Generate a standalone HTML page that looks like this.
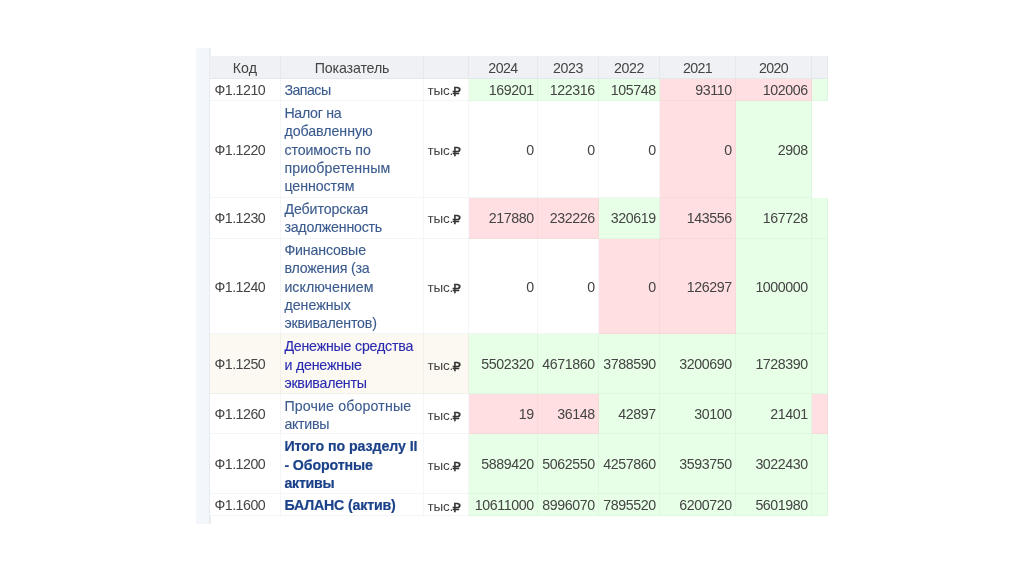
<!DOCTYPE html>
<html lang="ru"><head><meta charset="utf-8"><title>Баланс</title>
<style>
html,body{margin:0;padding:0;background:#fff;}
body{width:1024px;height:574px;position:relative;overflow:hidden;font-family:"Liberation Sans",sans-serif;font-size:14.2px;color:#444;}
.strip{position:absolute;left:196px;top:48px;width:13px;height:476px;background:#f3f7fc;}
.vline{position:absolute;left:209px;top:48px;width:2px;height:476px;background:linear-gradient(90deg,#e6e9ed,#eef0f3);}
.c{position:absolute;box-sizing:border-box;border-right:1px solid rgba(0,20,40,0.045);border-bottom:1px solid rgba(0,20,40,0.045);white-space:nowrap;display:flex;align-items:center;}
.h{background:#eff1f5;justify-content:center;color:#444;}
.num{justify-content:flex-end;padding-right:3.2px;letter-spacing:-0.4px;}
.n4{padding-right:3.3px;}
.code{padding-left:4.5px;}
.name{padding-left:3.4px;line-height:18.35px;color:#3b5b8e;-webkit-text-stroke:0.12px currentColor;}
.name.hov{color:#2a2ab0;}
.name.b{font-weight:bold;color:#1b4189;-webkit-text-stroke:0.2px #1b4189;}
.name span{display:block;}
.cc{border-color:rgba(0,40,20,0.032);}
.nb{border:none;}
.unit{padding-left:3.4px;}
.unit .t{letter-spacing:-0.15px;font-size:13.5px;}
.rub{font-family:"DejaVu Sans",sans-serif;font-weight:normal;-webkit-text-stroke:0.45px #333;font-size:13px;margin-left:-0.7px;color:#333;position:relative;top:1.1px;display:inline-block;}
</style></head><body>
<div class="strip"></div><div class="vline"></div>

<div class="c h" style="left:210px;top:56px;width:71px;height:23px;padding-top:2.0px;"><span class="t" style="letter-spacing:0.200px">Код</span></div>
<div class="c h" style="left:281px;top:56px;width:143px;height:23px;padding-top:2.0px;"><span class="t" style="letter-spacing:-0.111px">Показатель</span></div>
<div class="c h" style="left:424px;top:56px;width:45px;height:23px;padding-top:2.0px;"></div>
<div class="c h" style="left:469px;top:56px;width:69px;height:23px;padding-top:2.0px;"><span class="t" style="letter-spacing:-0.533px">2024</span></div>
<div class="c h" style="left:538px;top:56px;width:61px;height:23px;padding-top:2.0px;"><span class="t" style="letter-spacing:-0.333px">2023</span></div>
<div class="c h" style="left:599px;top:56px;width:61px;height:23px;padding-top:2.0px;"><span class="t" style="letter-spacing:-0.400px">2022</span></div>
<div class="c h" style="left:660px;top:56px;width:76px;height:23px;padding-top:2.0px;"><span class="t" style="letter-spacing:-0.600px">2021</span></div>
<div class="c h" style="left:736px;top:56px;width:76px;height:23px;padding-top:2.0px;"><span class="t" style="letter-spacing:-0.600px">2020</span></div>
<div class="c h" style="left:812px;top:56px;width:16px;height:23px;padding-top:2.0px;"></div>
<div class="c code" style="left:210px;top:79px;width:71px;height:22px;background:#ffffff;padding-top:0.9px;"><span class="t" style="letter-spacing:-0.500px">Ф1.1210</span></div>
<div class="c name" style="left:281px;top:79px;width:143px;height:22px;background:#ffffff;padding-top:0.9px;"><div><span class="t" style="letter-spacing:-0.520px">Запасы</span></div></div>
<div class="c unit" style="left:424px;top:79px;width:45px;height:22px;background:#ffffff;padding-top:2.1px;"><span class="t">тыс.</span><span class="rub">₽</span></div>
<div class="c num n4 cc" style="left:469px;top:79px;width:69px;height:22px;background:#e6ffe6;padding-top:0.9px;"><span class="t">169201</span></div>
<div class="c num n4 cc" style="left:538px;top:79px;width:61px;height:22px;background:#e6ffe6;padding-top:0.9px;"><span class="t">122316</span></div>
<div class="c num n4 cc" style="left:599px;top:79px;width:61px;height:22px;background:#e6ffe6;padding-top:0.9px;"><span class="t">105748</span></div>
<div class="c num n4 cc" style="left:660px;top:79px;width:76px;height:22px;background:#ffdfe1;padding-top:0.9px;"><span class="t">93110</span></div>
<div class="c num cc" style="left:736px;top:79px;width:76px;height:22px;background:#ffdfe1;padding-top:0.9px;"><span class="t">102006</span></div>
<div class="c ex cc" style="left:812px;top:79px;width:16px;height:22px;background:#e6ffe6;"></div>
<div class="c code" style="left:210px;top:101px;width:71px;height:97px;background:#ffffff;padding-top:1.1px;"><span class="t" style="letter-spacing:-0.500px">Ф1.1220</span></div>
<div class="c name" style="left:281px;top:101px;width:143px;height:97px;background:#ffffff;padding-top:1.7px;"><div><span class="t" style="letter-spacing:-0.286px">Налог на</span><span class="t" style="letter-spacing:-0.040px">добавленную</span><span class="t" style="letter-spacing:-0.091px">стоимость по</span><span class="t" style="letter-spacing:0.100px">приобретенным</span><span class="t" style="letter-spacing:-0.050px">ценностям</span></div></div>
<div class="c unit" style="left:424px;top:101px;width:45px;height:97px;background:#ffffff;padding-top:2.3px;"><span class="t">тыс.</span><span class="rub">₽</span></div>
<div class="c num n4" style="left:469px;top:101px;width:69px;height:97px;background:#ffffff;padding-top:1.1px;"><span class="t">0</span></div>
<div class="c num n4" style="left:538px;top:101px;width:61px;height:97px;background:#ffffff;padding-top:1.1px;"><span class="t">0</span></div>
<div class="c num n4" style="left:599px;top:101px;width:61px;height:97px;background:#ffffff;padding-top:1.1px;"><span class="t">0</span></div>
<div class="c num n4 cc" style="left:660px;top:101px;width:76px;height:97px;background:#ffdfe1;padding-top:1.1px;"><span class="t">0</span></div>
<div class="c num cc" style="left:736px;top:101px;width:76px;height:97px;background:#e6ffe6;padding-top:1.1px;"><span class="t">2908</span></div>
<div class="c ex nb" style="left:812px;top:101px;width:16px;height:97px;background:#ffffff;"></div>
<div class="c code" style="left:210px;top:198px;width:71px;height:41px;background:#ffffff;padding-top:0.1px;"><span class="t" style="letter-spacing:-0.500px">Ф1.1230</span></div>
<div class="c name" style="left:281px;top:198px;width:143px;height:41px;background:#ffffff;padding-top:0.7px;"><div><span class="t" style="letter-spacing:-0.080px">Дебиторская</span><span class="t" style="letter-spacing:-0.217px">задолженность</span></div></div>
<div class="c unit" style="left:424px;top:198px;width:45px;height:41px;background:#ffffff;padding-top:1.3px;"><span class="t">тыс.</span><span class="rub">₽</span></div>
<div class="c num n4 cc" style="left:469px;top:198px;width:69px;height:41px;background:#ffdfe1;padding-top:0.1px;"><span class="t">217880</span></div>
<div class="c num n4 cc" style="left:538px;top:198px;width:61px;height:41px;background:#ffdfe1;padding-top:0.1px;"><span class="t">232226</span></div>
<div class="c num n4 cc" style="left:599px;top:198px;width:61px;height:41px;background:#e6ffe6;padding-top:0.1px;"><span class="t">320619</span></div>
<div class="c num n4 cc" style="left:660px;top:198px;width:76px;height:41px;background:#ffdfe1;padding-top:0.1px;"><span class="t">143556</span></div>
<div class="c num cc" style="left:736px;top:198px;width:76px;height:41px;background:#e6ffe6;padding-top:0.1px;"><span class="t">167728</span></div>
<div class="c ex cc" style="left:812px;top:198px;width:16px;height:41px;background:#e6ffe6;"></div>
<div class="c code" style="left:210px;top:239px;width:71px;height:95px;background:#ffffff;padding-top:1.1px;"><span class="t" style="letter-spacing:-0.500px">Ф1.1240</span></div>
<div class="c name" style="left:281px;top:239px;width:143px;height:95px;background:#ffffff;padding-top:1.7px;"><div><span class="t" style="letter-spacing:-0.156px">Финансовые</span><span class="t" style="letter-spacing:-0.182px">вложения (за</span><span class="t" style="letter-spacing:0.040px">исключением</span><span class="t" style="letter-spacing:0.029px">денежных</span><span class="t" style="letter-spacing:-0.183px">эквивалентов)</span></div></div>
<div class="c unit" style="left:424px;top:239px;width:45px;height:95px;background:#ffffff;padding-top:2.3px;"><span class="t">тыс.</span><span class="rub">₽</span></div>
<div class="c num n4" style="left:469px;top:239px;width:69px;height:95px;background:#ffffff;padding-top:1.1px;"><span class="t">0</span></div>
<div class="c num n4" style="left:538px;top:239px;width:61px;height:95px;background:#ffffff;padding-top:1.1px;"><span class="t">0</span></div>
<div class="c num n4 cc" style="left:599px;top:239px;width:61px;height:95px;background:#ffdfe1;padding-top:1.1px;"><span class="t">0</span></div>
<div class="c num n4 cc" style="left:660px;top:239px;width:76px;height:95px;background:#ffdfe1;padding-top:1.1px;"><span class="t">126297</span></div>
<div class="c num cc" style="left:736px;top:239px;width:76px;height:95px;background:#e6ffe6;padding-top:1.1px;"><span class="t">1000000</span></div>
<div class="c ex cc" style="left:812px;top:239px;width:16px;height:95px;background:#e6ffe6;"></div>
<div class="c code" style="left:210px;top:334px;width:71px;height:60px;background:#fbf9f1;padding-top:0.7px;"><span class="t" style="letter-spacing:-0.500px">Ф1.1250</span></div>
<div class="c name hov" style="left:281px;top:334px;width:143px;height:60px;background:#fbf9f1;padding-top:2.7px;"><div><span class="t" style="letter-spacing:-0.200px">Денежные средства</span><span class="t" style="letter-spacing:-0.178px">и денежные</span><span class="t" style="letter-spacing:-0.240px">эквиваленты</span></div></div>
<div class="c unit" style="left:424px;top:334px;width:45px;height:60px;background:#fbf9f1;padding-top:3.3px;"><span class="t">тыс.</span><span class="rub">₽</span></div>
<div class="c num n4 cc" style="left:469px;top:334px;width:69px;height:60px;background:#e6ffe6;padding-top:0.7px;"><span class="t">5502320</span></div>
<div class="c num n4 cc" style="left:538px;top:334px;width:61px;height:60px;background:#e6ffe6;padding-top:0.7px;"><span class="t">4671860</span></div>
<div class="c num n4 cc" style="left:599px;top:334px;width:61px;height:60px;background:#e6ffe6;padding-top:0.7px;"><span class="t">3788590</span></div>
<div class="c num n4 cc" style="left:660px;top:334px;width:76px;height:60px;background:#e6ffe6;padding-top:0.7px;"><span class="t">3200690</span></div>
<div class="c num cc" style="left:736px;top:334px;width:76px;height:60px;background:#e6ffe6;padding-top:0.7px;"><span class="t">1728390</span></div>
<div class="c ex cc" style="left:812px;top:334px;width:16px;height:60px;background:#e6ffe6;"></div>
<div class="c code" style="left:210px;top:394px;width:71px;height:40px;background:#ffffff;padding-top:0.7px;"><span class="t" style="letter-spacing:-0.500px">Ф1.1260</span></div>
<div class="c name" style="left:281px;top:394px;width:143px;height:40px;background:#ffffff;padding-top:2.7px;"><div><span class="t" style="letter-spacing:0.147px">Прочие оборотные</span><span class="t" style="letter-spacing:-0.280px">активы</span></div></div>
<div class="c unit" style="left:424px;top:394px;width:45px;height:40px;background:#ffffff;padding-top:3.3px;"><span class="t">тыс.</span><span class="rub">₽</span></div>
<div class="c num n4 cc" style="left:469px;top:394px;width:69px;height:40px;background:#ffdfe1;padding-top:0.7px;"><span class="t">19</span></div>
<div class="c num n4 cc" style="left:538px;top:394px;width:61px;height:40px;background:#ffdfe1;padding-top:0.7px;"><span class="t">36148</span></div>
<div class="c num n4 cc" style="left:599px;top:394px;width:61px;height:40px;background:#e6ffe6;padding-top:0.7px;"><span class="t">42897</span></div>
<div class="c num n4 cc" style="left:660px;top:394px;width:76px;height:40px;background:#e6ffe6;padding-top:0.7px;"><span class="t">30100</span></div>
<div class="c num cc" style="left:736px;top:394px;width:76px;height:40px;background:#e6ffe6;padding-top:0.7px;"><span class="t">21401</span></div>
<div class="c ex cc" style="left:812px;top:394px;width:16px;height:40px;background:#ffdfe1;"></div>
<div class="c code" style="left:210px;top:434px;width:71px;height:60px;background:#ffffff;padding-top:0.7px;"><span class="t" style="letter-spacing:-0.500px">Ф1.1200</span></div>
<div class="c name b" style="left:281px;top:434px;width:143px;height:60px;background:#ffffff;padding-top:2.7px;"><div><span class="t" style="letter-spacing:-0.067px">Итого по разделу II</span><span class="t" style="letter-spacing:-0.120px">- Оборотные</span><span class="t" style="letter-spacing:-0.240px">активы</span></div></div>
<div class="c unit" style="left:424px;top:434px;width:45px;height:60px;background:#ffffff;padding-top:3.3px;"><span class="t">тыс.</span><span class="rub">₽</span></div>
<div class="c num n4 cc" style="left:469px;top:434px;width:69px;height:60px;background:#e6ffe6;padding-top:0.7px;"><span class="t">5889420</span></div>
<div class="c num n4 cc" style="left:538px;top:434px;width:61px;height:60px;background:#e6ffe6;padding-top:0.7px;"><span class="t">5062550</span></div>
<div class="c num n4 cc" style="left:599px;top:434px;width:61px;height:60px;background:#e6ffe6;padding-top:0.7px;"><span class="t">4257860</span></div>
<div class="c num n4 cc" style="left:660px;top:434px;width:76px;height:60px;background:#e6ffe6;padding-top:0.7px;"><span class="t">3593750</span></div>
<div class="c num cc" style="left:736px;top:434px;width:76px;height:60px;background:#e6ffe6;padding-top:0.7px;"><span class="t">3022430</span></div>
<div class="c ex cc" style="left:812px;top:434px;width:16px;height:60px;background:#e6ffe6;"></div>
<div class="c code" style="left:210px;top:494px;width:71px;height:22px;background:#ffffff;padding-top:0.7px;"><span class="t" style="letter-spacing:-0.500px">Ф1.1600</span></div>
<div class="c name b" style="left:281px;top:494px;width:143px;height:22px;background:#ffffff;padding-top:1.3px;"><div><span class="t" style="letter-spacing:-0.169px">БАЛАНС (актив)</span></div></div>
<div class="c unit" style="left:424px;top:494px;width:45px;height:22px;background:#ffffff;padding-top:3.3px;"><span class="t">тыс.</span><span class="rub">₽</span></div>
<div class="c num n4 cc" style="left:469px;top:494px;width:69px;height:22px;background:#e6ffe6;padding-top:0.7px;"><span class="t">10611000</span></div>
<div class="c num n4 cc" style="left:538px;top:494px;width:61px;height:22px;background:#e6ffe6;padding-top:0.7px;"><span class="t">8996070</span></div>
<div class="c num n4 cc" style="left:599px;top:494px;width:61px;height:22px;background:#e6ffe6;padding-top:0.7px;"><span class="t">7895520</span></div>
<div class="c num n4 cc" style="left:660px;top:494px;width:76px;height:22px;background:#e6ffe6;padding-top:0.7px;"><span class="t">6200720</span></div>
<div class="c num cc" style="left:736px;top:494px;width:76px;height:22px;background:#e6ffe6;padding-top:0.7px;"><span class="t">5601980</span></div>
<div class="c ex cc" style="left:812px;top:494px;width:16px;height:22px;background:#e6ffe6;"></div>
</body></html>
